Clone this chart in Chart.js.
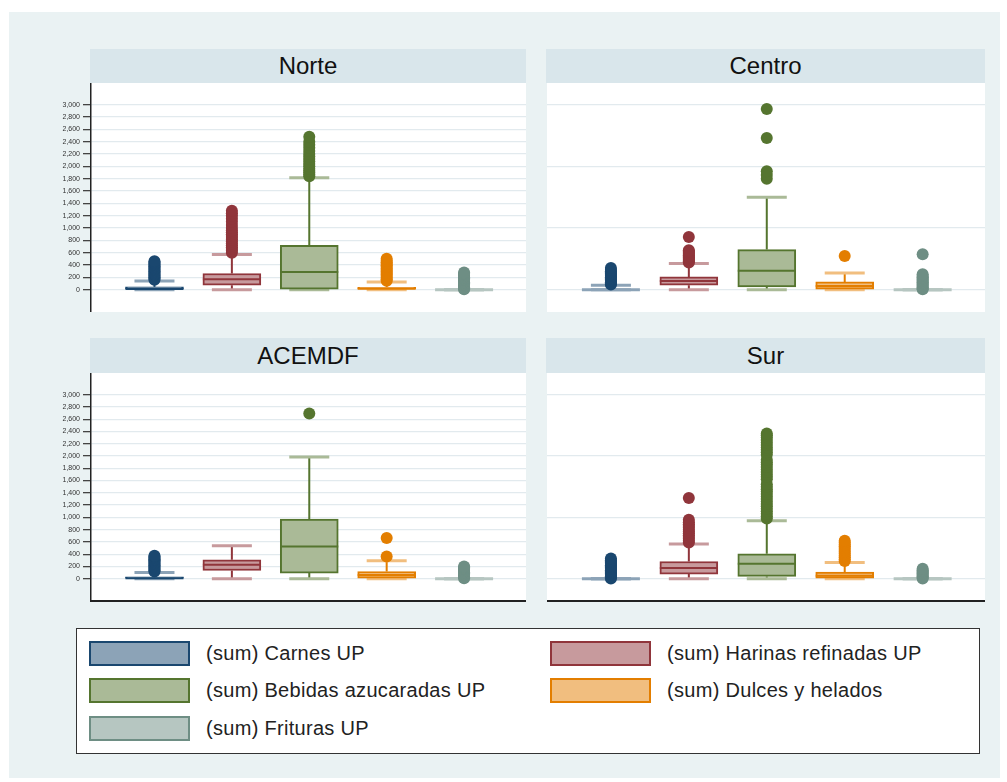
<!DOCTYPE html>
<html><head><meta charset="utf-8">
<script src="https://cdn.jsdelivr.net/npm/chart.js@4.4.0/dist/chart.umd.min.js"></script>
<style>
body{margin:0;background:#fff;width:1007px;height:782px;position:relative;overflow:hidden;font-family:"Liberation Sans",Arial,sans-serif;}
#bg{position:absolute;left:9px;top:12px;width:991px;height:766px;background:#eaf2f3;}
.hdr{position:absolute;background:#d9e6eb;color:#111;font-size:24px;display:flex;align-items:center;justify-content:center;}
.pbg{position:absolute;background:#fff;}
canvas{position:absolute;}
#legend{position:absolute;left:76px;top:628px;width:902px;height:124px;background:#fff;border:1.5px solid #333;}
.sw{position:absolute;width:97px;height:21px;border:2px solid;}
.lt{position:absolute;font-size:20px;color:#222;line-height:25px;white-space:nowrap;letter-spacing:0.3px;}
</style></head>
<body>
<div id="bg"></div>
<div id="panels"></div>
<div id="legend"></div>
<script>
// ---- data ----
const categories = ['(sum) Carnes UP','(sum) Harinas refinadas UP','(sum) Bebidas azucaradas UP','(sum) Dulces y helados','(sum) Frituras UP'];
const regions = ['Norte','Centro','ACEMDF','Sur'];
const lineColors = ['#1a476f','#90353b','#55752f','#e37e00','#6e8e84'];
const fillColors = ['#8ca3b7','#c79a9d','#aaba97','#f1be7f','#b6c6c1'];
const yTicks = [0,200,400,600,800,1000,1200,1400,1600,1800,2000,2200,2400,2600,2800,3000];
const yTickLabels = ['0','200','400','600','800','1,000','1,200','1,400','1,600','1,800','2,000','2,200','2,400','2,600','2,800','3,000'];
const rightGrid = [0,1000,2000,3000];

// [lower adjacent, q1, median, q3, upper adjacent] per category
const norteBox = [[0,0,10,45,140],[0,73,170,262,570],[0,8,288,720,1815],[0,0,15,40,126],[0,0,0,0,0]];
const norteOut = [
  [160,180,200,220,240,260,280,300,320,340,360,380,400,420,440,460],
  [600,630,660,690,720,750,780,810,840,870,900,930,960,1000,1050,1100,1150,1200,1240,1280],
  [1840,1870,1900,1930,1960,2000,2040,2080,2120,2160,2200,2250,2300,2350,2400,2480],
  [145,170,195,220,245,270,295,320,345,370,395,420,445,470,500],
  [8,20,40,60,80,100,120,140,160,180,200,220,240,260,280]
];
const centroBox = [[0,0,0,0,70],[0,73,142,207,424],[0,45,305,650,1500],[0,8,60,126,272],[0,0,0,0,0]];
const centroOut = [
  [85,100,120,140,160,180,200,220,240,260,280,300,320,350],
  [440,460,480,500,520,540,560,580,600,620,640,855],
  [1800,1860,1920,2460,2930],
  [547],
  [5,20,40,60,80,100,120,140,160,180,200,220,250,575]
];
const acemdfBox = [[0,0,10,30,103],[0,135,228,310,538],[0,93,527,974,1985],[0,11,60,119,294],[0,0,0,0,0]];
const acemdfOut = [
  [120,140,160,180,200,220,240,260,280,300,320,340,360,375],
  [],
  [2692],
  [364,664],
  [8,25,45,65,85,105,125,145,165,185,200]
];
const surBox = [[0,0,0,0,0],[0,77,175,282,566],[0,38,245,408,946],[0,11,50,109,266],[0,0,0,0,0]];
const surOut = [
  [5,20,40,60,80,100,120,140,160,180,200,220,240,260,280,300,330],
  [590,620,650,680,710,740,770,800,830,860,890,920,960,1316],
  [980,1020,1060,1100,1140,1180,1220,1260,1300,1340,1380,1420,1460,1500,1540,1620,1660,1700,1740,1780,1820,1860,1900,1940,2020,2060,2100,2140,2180,2220,2260,2300,2340,2365],
  [290,320,350,380,410,440,470,500,530,560,590,620],
  [5,20,40,60,80,100,120,140,163]
];

const FONT = '"Liberation Sans", Arial, sans-serif';

const whiskerPlugin = {
  id: 'whiskers',
  beforeDatasetsDraw(chart) {
    const stats = chart.data.datasets[0].stats;
    const xs = chart.scales.x, ys = chart.scales.y, ctx = chart.ctx;
    const ca = chart.chartArea;
    ctx.save();
    ctx.beginPath(); ctx.rect(ca.left, ca.top, ca.right - ca.left, ca.bottom - ca.top); ctx.clip();
    stats.forEach((b, i) => {
      const x = xs.getPixelForValue(i + 1);
      ctx.strokeStyle = lineColors[i]; ctx.lineWidth = 2;
      ctx.beginPath();
      ctx.moveTo(x, ys.getPixelForValue(b[3])); ctx.lineTo(x, ys.getPixelForValue(b[4]));
      ctx.moveTo(x, ys.getPixelForValue(b[1])); ctx.lineTo(x, ys.getPixelForValue(b[0]));
      ctx.stroke();
      ctx.strokeStyle = fillColors[i]; ctx.lineWidth = 3;
      [b[0], b[4]].forEach(v => {
        const y = ys.getPixelForValue(v);
        ctx.beginPath(); ctx.moveTo(x - 20, y); ctx.lineTo(x + 20, y); ctx.stroke();
      });
    });
    ctx.restore();
  },
  afterDatasetDraw(chart, args) {
    if (args.meta.type !== 'bar') return;
    const stats = chart.data.datasets[0].stats;
    const ys = chart.scales.y, ctx = chart.ctx;
    ctx.save();
    stats.forEach((b, i) => {
      const el = args.meta.data[i];
      const half = el.width / 2;
      const y = ys.getPixelForValue(b[2]);
      ctx.beginPath(); ctx.moveTo(el.x - half, y); ctx.lineTo(el.x + half, y);
      if (b[3] > b[1]) { ctx.strokeStyle = lineColors[i]; ctx.lineWidth = 2; }
      else { ctx.strokeStyle = fillColors[i]; ctx.lineWidth = 3; }
      ctx.stroke();
    });
    ctx.restore();
  }
};

function makePanel(idx, box, outs) {
  const isLeft = idx % 2 === 0, isBottom = idx >= 2;
  const areaLeft = isLeft ? 91 : 547;
  const areaW = isLeft ? 435 : 438;
  const hdrTop = isBottom ? 338 : 49;
  const areaTop = isBottom ? 373 : 83;
  const areaH = isBottom ? 228 : 229;
  const panels = document.getElementById('panels');
  const hdr = document.createElement('div');
  hdr.className = 'hdr'; hdr.textContent = regions[idx];
  Object.assign(hdr.style, {left: (areaLeft - 1) + 'px', top: hdrTop + 'px', width: (areaW + 1) + 'px', height: (areaTop - hdrTop) + 'px'});
  panels.appendChild(hdr);
  const bg = document.createElement('div');
  bg.className = 'pbg';
  Object.assign(bg.style, {left: areaLeft + 'px', top: areaTop + 'px', width: areaW + 'px', height: areaH + 'px'});
  panels.appendChild(bg);
  const axisW = isLeft ? 41 : 0;
  const cv = document.createElement('canvas');
  const cw = areaW + axisW, ch = areaH + (isBottom ? 2 : 0);
  cv.width = cw; cv.height = ch;
  Object.assign(cv.style, {left: (areaLeft - axisW) + 'px', top: areaTop + 'px', width: cw + 'px', height: ch + 'px'});
  panels.appendChild(cv);

  const datasets = [{
    type: 'bar',
    stats: box,
    data: box.map((b, i) => ({x: i + 1, y: [b[1], b[3]]})),
    backgroundColor: fillColors, borderColor: lineColors, borderWidth: 2,
    borderSkipped: false, barThickness: 58, order: 10
  }];
  outs.forEach((arr, i) => datasets.push({
    type: 'scatter', data: arr.map(v => ({x: i + 1, y: v})),
    pointRadius: 6, pointBackgroundColor: lineColors[i], pointBorderColor: lineColors[i], pointBorderWidth: 0, order: 1
  }));

  new Chart(cv, {
    type: 'bar',
    data: {datasets},
    plugins: [whiskerPlugin],
    options: {
      responsive: false, animation: false, devicePixelRatio: 1, events: [],
      layout: {padding: 0, autoPadding: false},
      plugins: {legend: {display: false}, tooltip: {enabled: false}, title: {display: false}},
      scales: {
        x: {
          type: 'linear', min: 0.18, max: 5.8, offset: false,
          ticks: {display: false}, grid: {display: false, drawTicks: false, offset: false},
          border: {display: isBottom, color: '#222', width: 2},
          afterFit: s => { s.height = isBottom ? 2 : 0; s.paddingLeft = 0; s.paddingRight = 0; }
        },
        y: {
          type: 'linear', min: -362, max: 3352,
          afterBuildTicks: s => { s.ticks = (isLeft ? yTicks : rightGrid).map(v => ({value: v})); },
          afterFit: s => { s.width = axisW; s.paddingTop = 0; s.paddingBottom = 0; },
          ticks: {
            display: isLeft, font: {size: 7, family: FONT}, color: '#333', padding: 3,
            callback: (v) => yTickLabels[yTicks.indexOf(v)]
          },
          grid: {color: '#e2eaee', lineWidth: 1.3, tickColor: '#444', tickLength: 8, drawTicks: isLeft},
          border: {display: isLeft, color: '#222', width: 1.5}
        }
      }
    }
  });
}

makePanel(0, norteBox, norteOut);
makePanel(1, centroBox, centroOut);
makePanel(2, acemdfBox, acemdfOut);
makePanel(3, surBox, surOut);

// legend
const lg = document.getElementById('legend');
const colX = [12, 473], rowY = [12, 49, 87];
categories.forEach((c, i) => {
  const r = Math.floor(i / 2), col = i % 2;
  const sw = document.createElement('div');
  sw.className = 'sw';
  Object.assign(sw.style, {left: colX[col] + 'px', top: rowY[r] + 'px', background: fillColors[i], borderColor: lineColors[i]});
  lg.appendChild(sw);
  const t = document.createElement('div');
  t.className = 'lt'; t.textContent = c;
  Object.assign(t.style, {left: (colX[col] + 117) + 'px', top: rowY[r] + 'px'});
  lg.appendChild(t);
});
</script>
</body></html>
